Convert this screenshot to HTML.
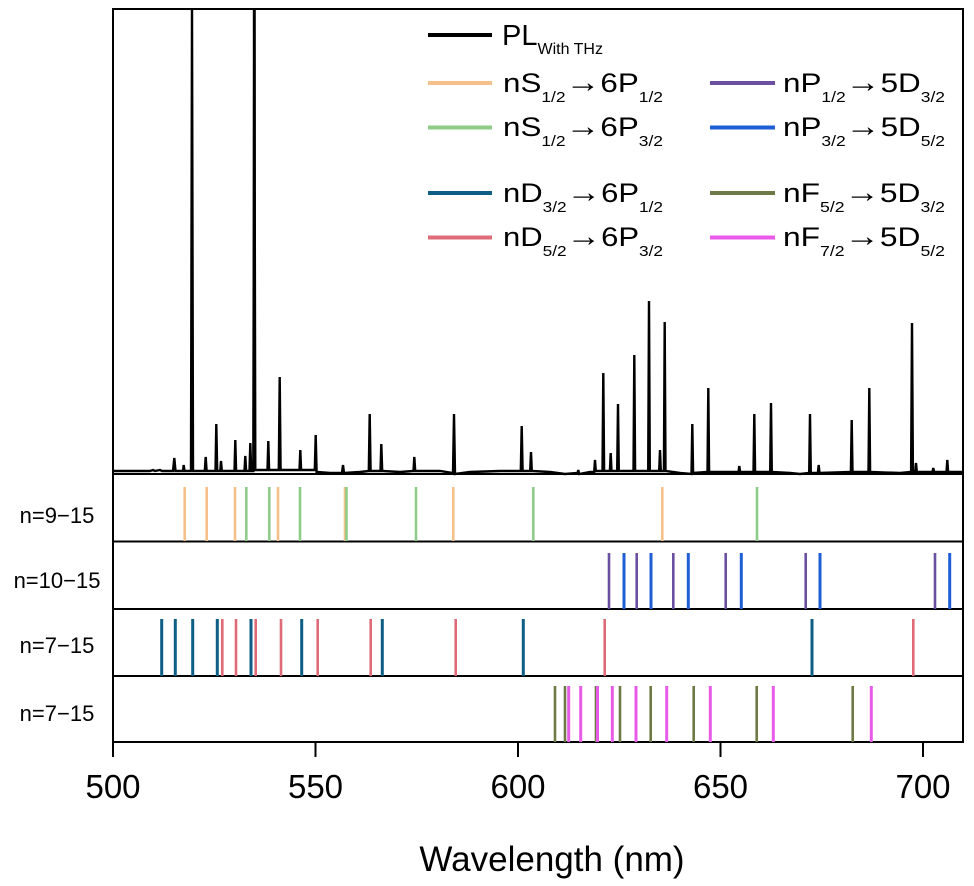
<!DOCTYPE html>
<html><head><meta charset="utf-8"><style>
html,body{margin:0;padding:0;background:#fff;}
svg{display:block;}
text{font-family:"Liberation Sans",Arial,sans-serif;fill:#000;}
</style></head><body>
<svg width="974" height="886" viewBox="0 0 974 886" xmlns="http://www.w3.org/2000/svg">
<path fill="none" stroke="#000" stroke-width="2.4" stroke-linejoin="miter" d="
M113,471 L150,471 L153,470 L155,471 L160,470 L162,471 L173,471 L174.3,458 L175.5,471 L183,471 L183.7,465 L184.5,471
L191,471 L192,9 L193,471 L204.8,471 L205.7,457 L206.6,471 L215.5,471 L216.3,424 L217.2,471 L220.3,471 L221,461 L221.8,471
L234.5,471 L235.3,440 L236.1,471 L244.5,471 L245.3,456 L246.1,471 L249.5,471 L250.3,443 L251.2,471 L253.3,471 L254.3,9 L255.3,470
L267.5,470 L268.3,441 L269.1,470 L278.8,470 L279.7,377 L280.6,470 L299.5,470 L300.3,450 L301.1,470 L314.8,470 L315.7,435 L316.6,472
L330,473 L342,473 L343,465 L344,473 L360,472 L368.8,471 L369.7,414 L370.6,471 L380.5,471 L381.3,444 L382.2,471 L400,472 L413.5,471 L414.3,457 L415.2,471
L440,471 L453,473 L454,414 L455,474 L470,472 L500,471 L520.8,471 L521.7,426 L522.6,471 L530.2,471 L531,452 L531.8,471
L550,472 L565,474 L577.5,473 L578.3,470 L579.1,474 L590,472 L594.2,472 L595,460 L595.8,471 L602.5,471 L603.3,373 L604.1,471 L609.9,471 L610.7,453 L611.5,471
L617.2,471 L618,404 L618.8,471 L633.5,471 L634.3,355 L635.1,471 L648.2,471 L649,301 L649.8,471 L659.2,471 L660,450 L660.8,471 L663.9,471 L664.7,322 L665.5,471
L680,473 L691.5,474 L692.3,424 L693.1,473 L707.5,472 L708.3,388 L709.1,472 L738.5,472 L739.3,466 L740.1,472 L753.5,472 L754.3,414 L755.1,472
L770.2,472 L771,403 L771.8,472 L790,473 L800,474 L809.2,473 L810,414 L810.8,473 L817.9,473 L818.7,465 L819.5,473 L850.9,472 L851.7,420 L852.5,472
L868.5,472 L869.3,388 L870.1,472 L900,473 L911.1,472 L912,323 L912.9,472 L915.2,472 L916,463 L916.8,472 L932.5,472 L933.3,468 L934.1,472
L946.5,472 L947.3,460 L948.1,472 L963,472"/>
<path d="M254.3,9 V470" stroke="#000" stroke-width="3"/>
<rect x="113" y="9" width="850" height="733" fill="none" stroke="#000" stroke-width="2"/>
<line x1="113" y1="474" x2="963" y2="474" stroke="#000" stroke-width="2"/>
<line x1="113" y1="541.5" x2="963" y2="541.5" stroke="#000" stroke-width="2"/>
<line x1="113" y1="609" x2="963" y2="609" stroke="#000" stroke-width="2"/>
<line x1="113" y1="676" x2="963" y2="676" stroke="#000" stroke-width="2"/>
<g stroke-width="2.6">
<g stroke="#f5c08a"><path d="M184.7,487V541M206.7,487V541M235,487V541M278,487V541M345,487V541M453.3,487V541M662.3,487V541"/></g>
<g stroke="#8fcc8a"><path d="M246.3,487V541M269.3,487V541M300,487V541M346.5,487V541M416,487V541M533.3,487V541M757,487V541"/></g>
<g stroke="#6b4fa0"><path d="M609,553V609M636.7,553V609M673.3,553V609M725.7,553V609M805.7,553V609M935,553V609"/></g>
<g stroke="#1f5fd6" stroke-width="3"><path d="M624,553V609M651,553V609M688.3,553V609M741.3,553V609M820,553V609M949.7,553V609"/></g>
<g stroke="#0e5e85" stroke-width="3"><path d="M161.7,619V676M175.3,619V676M192.7,619V676M217.3,619V676M251,619V676M301.7,619V676M382.3,619V676M523.3,619V676M812,619V676"/></g>
<g stroke="#e06b78"><path d="M222.3,619V676M236,619V676M255.7,619V676M281,619V676M317.7,619V676M370.7,619V676M455.7,619V676M604.7,619V676M913.3,619V676"/></g>
<g stroke="#6e7a45"><path d="M555,686V742M565,686V742M596,686V742M620,686V742M650.7,686V742M693.7,686V742M756.7,686V742M852.7,686V742"/></g>
<g stroke="#e85be8" stroke-width="3"><path d="M568.7,686V742M580.7,686V742M597.5,686V742M612.3,686V742M636,686V742M666.7,686V742M710.3,686V742M773.3,686V742M871.3,686V742"/></g>
</g>
<g font-size="22" text-anchor="middle">
<text x="57" y="523">n=9−15</text>
<text x="57" y="588">n=10−15</text>
<text x="57" y="653">n=7−15</text>
<text x="57" y="721">n=7−15</text>
</g>
<g stroke="#000" stroke-width="2">
<path d="M113,742V757M315.5,742V757M518,742V757M720.5,742V757M923,742V757"/>
</g>
<g font-size="33" text-anchor="middle">
<text x="113" y="798">500</text><text x="315.5" y="798">550</text><text x="518" y="798">600</text><text x="720.5" y="798">650</text><text x="923" y="798">700</text>
</g>
<text x="552" y="871" font-size="35" text-anchor="middle">Wavelength (nm)</text>
<g stroke-width="4">
<line x1="428" y1="35" x2="492" y2="35" stroke="#000"/>
<line x1="428" y1="83" x2="492" y2="83" stroke="#f5c08a"/>
<line x1="428" y1="127.5" x2="492" y2="127.5" stroke="#8fcc8a"/>
<line x1="428" y1="193" x2="492" y2="193" stroke="#0e5e85"/>
<line x1="428" y1="237.5" x2="492" y2="237.5" stroke="#e06b78"/>
<line x1="710" y1="83" x2="775" y2="83" stroke="#6b4fa0"/>
<line x1="710" y1="127.5" x2="775" y2="127.5" stroke="#1f5fd6"/>
<line x1="710" y1="193" x2="775" y2="193" stroke="#6e7a45"/>
<line x1="710" y1="237.5" x2="775" y2="237.5" stroke="#e85be8"/>
</g>
<g font-size="27">
<text x="502" y="45" font-size="29">PL<tspan font-size="16" dy="9">With THz</tspan></text>
<text x="503" y="92" textLength="160" lengthAdjust="spacingAndGlyphs">nS<tspan font-size="15" dy="10">1/2</tspan><tspan dy="-10" font-size="30">→</tspan>6P<tspan font-size="15" dy="10">1/2</tspan></text>
<text x="503" y="136" textLength="160" lengthAdjust="spacingAndGlyphs">nS<tspan font-size="15" dy="10">1/2</tspan><tspan dy="-10" font-size="30">→</tspan>6P<tspan font-size="15" dy="10">3/2</tspan></text>
<text x="503" y="202" textLength="160" lengthAdjust="spacingAndGlyphs">nD<tspan font-size="15" dy="10">3/2</tspan><tspan dy="-10" font-size="30">→</tspan>6P<tspan font-size="15" dy="10">1/2</tspan></text>
<text x="503" y="246" textLength="160" lengthAdjust="spacingAndGlyphs">nD<tspan font-size="15" dy="10">5/2</tspan><tspan dy="-10" font-size="30">→</tspan>6P<tspan font-size="15" dy="10">3/2</tspan></text>
<text x="783" y="92" textLength="162" lengthAdjust="spacingAndGlyphs">nP<tspan font-size="15" dy="10">1/2</tspan><tspan dy="-10" font-size="30">→</tspan>5D<tspan font-size="15" dy="10">3/2</tspan></text>
<text x="783" y="136" textLength="162" lengthAdjust="spacingAndGlyphs">nP<tspan font-size="15" dy="10">3/2</tspan><tspan dy="-10" font-size="30">→</tspan>5D<tspan font-size="15" dy="10">5/2</tspan></text>
<text x="783" y="202" textLength="162" lengthAdjust="spacingAndGlyphs">nF<tspan font-size="15" dy="10">5/2</tspan><tspan dy="-10" font-size="30">→</tspan>5D<tspan font-size="15" dy="10">3/2</tspan></text>
<text x="783" y="246" textLength="162" lengthAdjust="spacingAndGlyphs">nF<tspan font-size="15" dy="10">7/2</tspan><tspan dy="-10" font-size="30">→</tspan>5D<tspan font-size="15" dy="10">5/2</tspan></text>
</g>
</svg>
</body></html>
